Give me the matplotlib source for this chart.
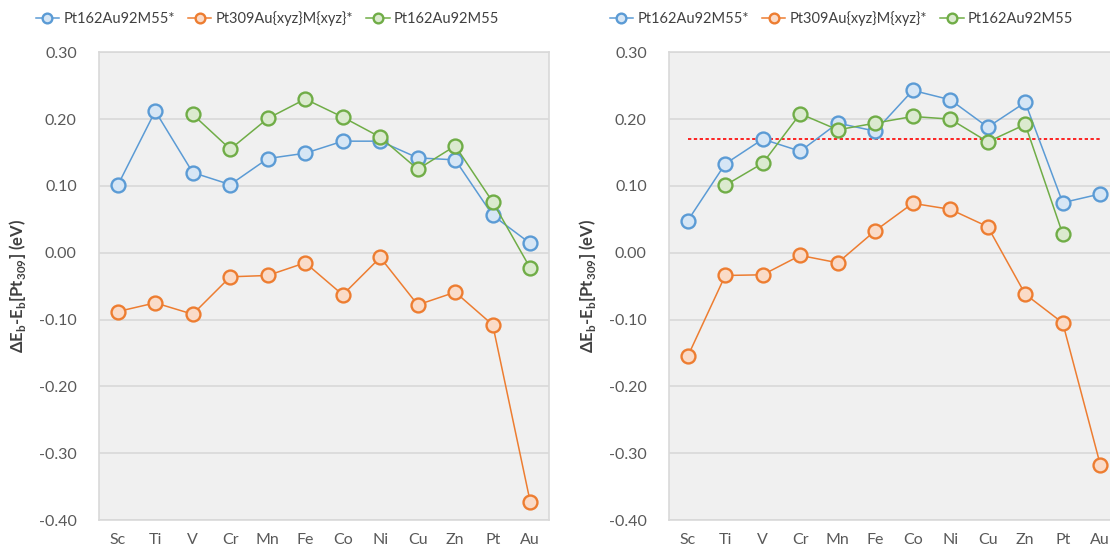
import matplotlib
matplotlib.use("Agg")
import matplotlib.pyplot as plt
import numpy as np
from matplotlib.ticker import FuncFormatter

plt.rcParams['font.family'] = ['Lato', 'DejaVu Sans']
plt.rcParams['axes.unicode_minus'] = False
plt.rcParams['mathtext.fontset'] = 'custom'
plt.rcParams['mathtext.bf'] = 'Lato:bold'
plt.rcParams['mathtext.rm'] = 'Lato'

elements = ['Sc', 'Ti', 'V', 'Cr', 'Mn', 'Fe', 'Co', 'Ni', 'Cu', 'Zn', 'Pt', 'Au']
labels = ['Pt162Au92M55*', 'Pt309Au{xyz}M{xyz}*', 'Pt162Au92M55']

# left panel
left_blue = [0.101, 0.212, 0.120, 0.102, 0.141, 0.149, 0.167, 0.167, 0.142, 0.139, 0.056, 0.014]
left_orange = [-0.088, -0.075, -0.092, -0.036, -0.034, -0.015, -0.063, -0.007, -0.078, -0.059, -0.108, -0.373]
left_green = [np.nan, np.nan, 0.207, 0.155, 0.201, 0.230, 0.203, 0.173, 0.125, 0.160, 0.076, -0.023]

# right panel
right_blue = [0.048, 0.133, 0.170, 0.152, 0.194, 0.182, 0.243, 0.229, 0.188, 0.225, 0.075, 0.088]
right_orange = [-0.155, -0.034, -0.033, -0.004, -0.015, 0.033, 0.074, 0.065, 0.039, -0.062, -0.105, -0.317]
right_green = [np.nan, 0.101, 0.134, 0.208, 0.184, 0.194, 0.204, 0.200, 0.166, 0.192, 0.028, np.nan]
ref_line = 0.170

line_colors = ['#5b9bd5', '#ed7d31', '#70ad47']
fill_colors = ['#d6e6f5', '#fadbc8', '#dbeacf']

fig = plt.figure(figsize=(11.1, 5.5), dpi=100)
ax1 = fig.add_axes([0.0892, 0.0545, 0.4054, 0.8504])
ax2 = fig.add_axes([0.6027, 0.0545, 0.4054, 0.8504])

x = np.arange(len(elements))
ylabel = r'$\mathbf{\Delta}$E$_\mathbf{b}$-E$_\mathbf{b}$[Pt$_\mathbf{309}$] (eV)'


def fmt(v, pos):
    s = '%.2f' % v
    if s == '-0.00':
        s = '0.00'
    return s


def draw(ax, series):
    handles = []
    for vals, lc, fc, lab in zip(series, line_colors, fill_colors, labels):
        h, = ax.plot(x, vals, color=lc, lw=1.1, marker='o', ms=10,
                     mfc=fc, mec=lc, mew=1.7, label=lab, zorder=3)
        handles.append(h)
    ax.set_facecolor('#f0f0f0')
    ax.set_xlim(-0.5, len(elements) - 0.5)
    ax.set_ylim(-0.40, 0.30)
    ax.set_yticks(np.arange(-0.40, 0.301, 0.10))
    ax.yaxis.set_major_formatter(FuncFormatter(fmt))
    ax.set_xticks(x)
    ax.set_xticklabels(elements)
    ax.grid(axis='y', color='#d9d9d9', lw=1.2, zorder=0)
    ax.set_axisbelow(True)
    for s in ax.spines.values():
        s.set_color('#d9d9d9')
        s.set_linewidth(1.2)
    ax.tick_params(length=0, labelsize=11.5, colors='#595959', pad=16)
    ax.tick_params(axis='x', pad=9)
    ax.set_ylabel(ylabel, fontsize=12, fontweight='bold', color='#404040', labelpad=8)
    return handles


h1 = draw(ax1, [left_blue, left_orange, left_green])
h2 = draw(ax2, [right_blue, right_orange, right_green])
ax2.plot([x[0], x[-1]], [ref_line, ref_line], color='#ff0000', lw=1.2,
         ls=(0, (2, 1.5)), zorder=2)

for hs, cx in [(h1, 0.241), (h2, 0.758)]:
    fig.legend(hs, labels, loc='center', bbox_to_anchor=(cx, 0.967), ncol=3,
               frameon=False, fontsize=10.5, handlelength=1.6, handletextpad=0.3,
               columnspacing=0.9, markerscale=0.7, labelcolor='#404040')

fig.savefig('out.png', dpi=100)
